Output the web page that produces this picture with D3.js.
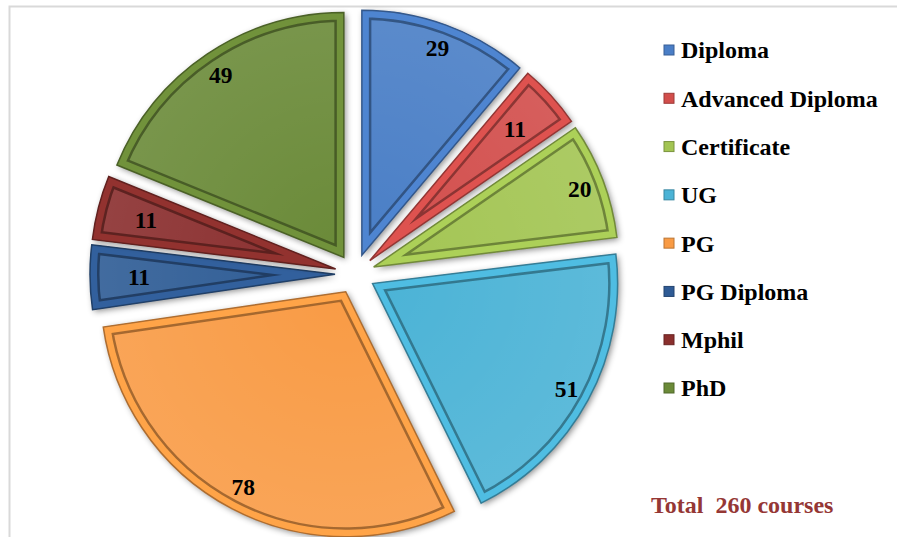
<!DOCTYPE html>
<html>
<meta charset="utf-8">
<style>
  body { margin: 0; background: #fff; }
  text { font-family: "Liberation Serif", "Times New Roman", serif; font-weight: bold; }
</style>
<script src="https://d3js.org/d3.v7.min.js"></script>
<body>
<script>
  var svgWidth = 897, svgHeight = 537;

  var categories = ["Diploma", "Advanced Diploma", "Certificate", "UG", "PG", "PG Diploma", "Mphil", "PhD"];
  var values = [29, 11, 20, 51, 78, 11, 11, 49];
  var colors = ["#4A7EC6", "#D24E4B", "#A3C553", "#4BB3D6", "#F99B44", "#2F5B95", "#8A2F2D", "#6B8A38"];
  var totalLabel = "Total  260 courses";

  var cx = 355, cy = 274, radius = 245, explode = 20, bevel = 7;

  var svg = d3.select("body")
    .append("svg")
    .attr("width", svgWidth)
    .attr("height", svgHeight);

  var defs = svg.append("defs");
  var shadow = defs.append("filter").attr("id", "shadow")
    .attr("x", "-20%").attr("y", "-20%").attr("width", "140%").attr("height", "140%");
  shadow.append("feDropShadow")
    .attr("dx", 2).attr("dy", 2).attr("stdDeviation", 3)
    .attr("flood-color", "#000").attr("flood-opacity", 0.45);

  var shine = defs.append("radialGradient").attr("id", "shine")
    .attr("gradientUnits", "userSpaceOnUse")
    .attr("cx", 0).attr("cy", 0).attr("r", radius);
  shine.append("stop").attr("offset", "0%").attr("stop-color", "#fff").attr("stop-opacity", 0);
  shine.append("stop").attr("offset", "100%").attr("stop-color", "#fff").attr("stop-opacity", 0.1);

  // chart area frame
  svg.append("rect")
    .attr("x", 9.5).attr("y", 6.5)
    .attr("width", 1000).attr("height", 1000)
    .attr("fill", "none").attr("stroke", "#d9d9d9").attr("stroke-width", 2);

  var color = d3.scaleOrdinal(categories, colors);

  var pie = d3.pie().sort(null).value(function(d){ return d; });
  var path = d3.arc().innerRadius(0).outerRadius(radius);
  var label = function(d){
    var r = radius * ((d.endAngle - d.startAngle) < 0.3 ? 0.8 : 0.9);
    return d3.arc().innerRadius(r).outerRadius(r).centroid(d);
  };

  var g = svg.append("g").attr("transform", "translate(" + cx + "," + cy + ")");

  var arcs = pie(values);

  var slice = g.selectAll(".arc")
    .data(arcs)
    .enter()
    .append("g")
    .attr("class", "arc")
    .attr("transform", function(d){
      var mid = (d.startAngle + d.endAngle) / 2;
      return "translate(" + (explode * Math.sin(mid)) + "," + (-explode * Math.cos(mid)) + ")";
    });

  slice.append("clipPath")
    .attr("id", function(d, i){ return "clip" + i; })
    .append("path")
    .attr("d", path);

  slice.append("path")
    .attr("d", path)
    .attr("fill", function(d, i){ return color(categories[i]); })
    .attr("filter", "url(#shadow)");

  slice.append("path")
    .attr("d", path)
    .attr("fill", "url(#shine)");

  // bevel: dark inner line, then frame band
  slice.append("path")
    .attr("d", path)
    .attr("clip-path", function(d, i){ return "url(#clip" + i + ")"; })
    .attr("fill", "none")
    .attr("stroke-linejoin", "miter")
    .attr("stroke-miterlimit", 100)
    .attr("stroke", function(d, i){ return d3.color(color(categories[i])).darker(1.4); })
    .attr("stroke-opacity", 0.85)
    .attr("stroke-width", 2 * (bevel + 2.5));

  slice.append("path")
    .attr("d", path)
    .attr("clip-path", function(d, i){ return "url(#clip" + i + ")"; })
    .attr("fill", "none")
    .attr("stroke-linejoin", "miter")
    .attr("stroke-miterlimit", 100)
    .attr("stroke", function(d, i){ return d3.color(color(categories[i])).brighter(0.15); })
    .attr("stroke-width", 2 * bevel);

  slice.append("path")
    .attr("d", path)
    .attr("fill", "none")
    .attr("stroke", function(d, i){ return d3.color(color(categories[i])).darker(1); })
    .attr("stroke-width", 1.5);

  slice.append("text")
    .attr("text-anchor", "middle")
    .attr("dy", "0.35em")
    .attr("font-size", 23.5)
    .attr("fill", "#000")
    .attr("transform", function(d){ return "translate(" + label(d) + ")"; })
    .text(function(d){ return d.data; });

  // legend
  var legendY = d3.scalePoint().domain(categories).range([50, 388]);

  var legend = svg.selectAll(".legend")
    .data(categories)
    .enter()
    .append("g")
    .attr("class", "legend")
    .attr("transform", function(d){ return "translate(664," + legendY(d) + ")"; });

  legend.append("rect")
    .attr("x", 0).attr("y", -5)
    .attr("width", 10).attr("height", 10)
    .attr("fill", function(d){ return color(d); })
    .attr("stroke", function(d){ return d3.color(color(d)).darker(0.8); })
    .attr("stroke-width", 1);

  legend.append("text")
    .attr("x", 17)
    .attr("dy", "0.35em")
    .attr("font-size", 24)
    .attr("fill", "#000")
    .text(function(d){ return d; });

  svg.append("text")
    .attr("x", 651).attr("y", 513)
    .attr("font-size", 24)
    .attr("fill", "#953735")
    .style("white-space", "pre")
    .text(totalLabel);
</script>
</body>
</html>
